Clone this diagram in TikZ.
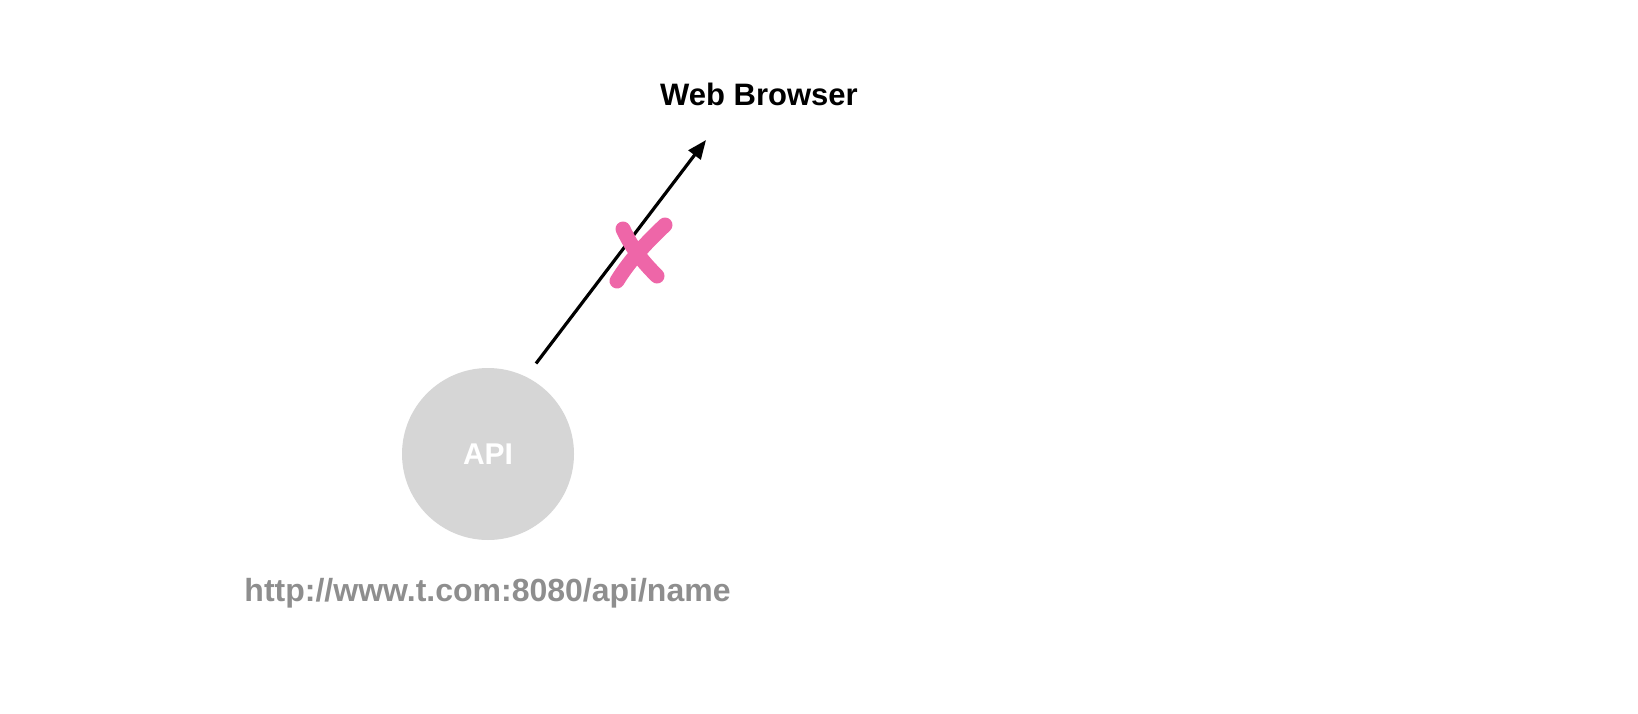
\documentclass[tikz,border=0pt]{standalone}
\usepackage{fontspec}
\setmainfont{Liberation Sans}
\usetikzlibrary{arrows.meta}
\definecolor{circlegray}{RGB}{214,214,214}
\definecolor{urlgray}{RGB}{142,142,142}
\definecolor{xpink}{RGB}{238,102,168}
\tikzset{
  lbl/.style={font=\bfseries\fontsize{31}{36}\selectfont, inner sep=0pt},
  urllbl/.style={font=\bfseries\fontsize{32}{36}\selectfont, inner sep=0pt, text=urlgray},
  apinode/.style={circle, fill=circlegray, minimum size=172pt, inner sep=0pt, text=white, font=\bfseries\fontsize{30}{36}\selectfont},
  conn/.style={line width=3.2pt, -{Triangle[length=19pt,width=15pt]}},
  xstroke/.style={xpink, line width=15pt, line cap=round}
}
\begin{document}
\begin{tikzpicture}[x=1pt,y=-1pt]
\useasboundingbox (0,0) rectangle (1638,714);
\node[apinode] (api) at (488,454) {API};
\node[lbl, anchor=base] (web) at (759,106) {Web Browser};
\node[urllbl, anchor=base] (url) at (487.5,601) {http://www.t.com:8080/api/name};
\coordinate (s) at (536,363.5);
\coordinate (t) at (706,140);
\draw[conn] (s) -- (t);
\coordinate (x1a) at (623,229);
\coordinate (x1b) at (657,276);
\coordinate (x2a) at (665,225);
\coordinate (x2b) at (617,281);
\draw[xstroke] (x1a) .. controls (633,250) and (643,262) .. (x1b);
\draw[xstroke] (x2a) .. controls (646,243) and (630,260) .. (x2b);
\end{tikzpicture}
\end{document}
